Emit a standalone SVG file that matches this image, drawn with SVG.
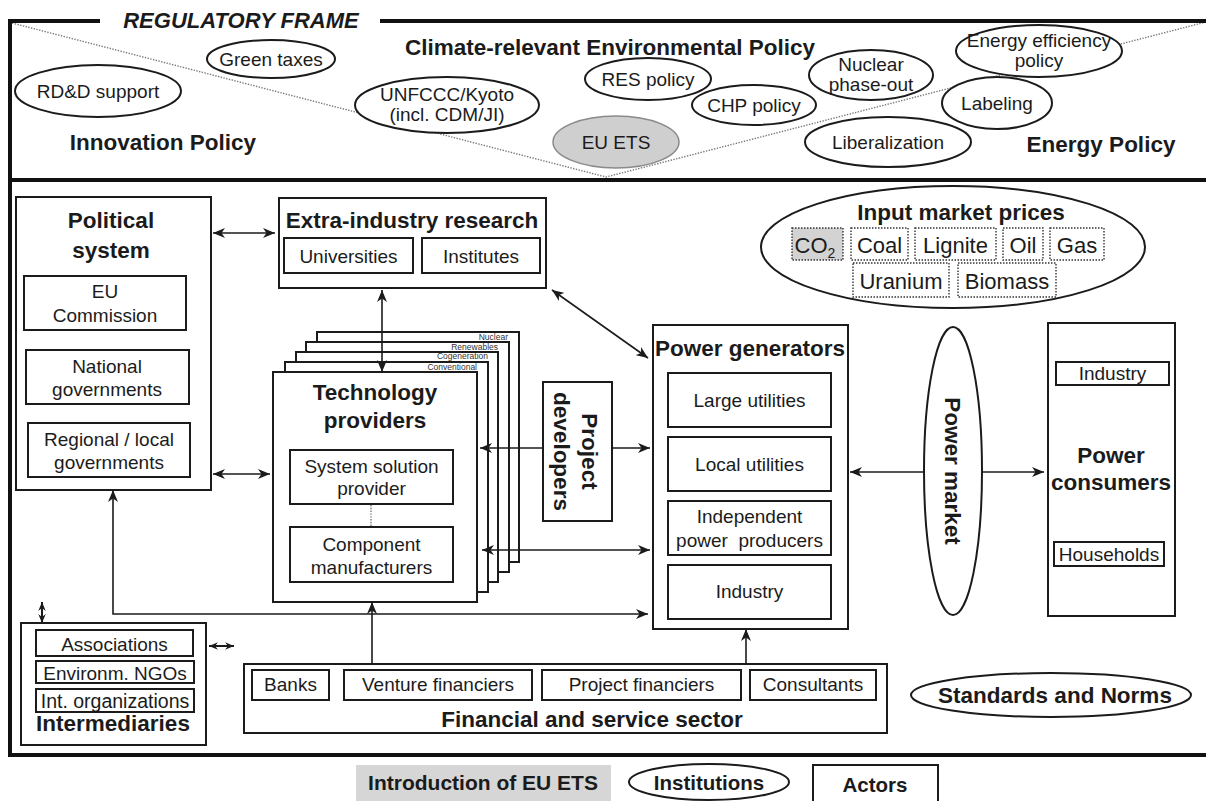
<svg xmlns="http://www.w3.org/2000/svg" width="1206" height="801" viewBox="0 0 1206 801">
<defs>
<style>
.t{font-family:"Liberation Sans",Arial,Helvetica,sans-serif;font-size:19px;fill:#1b1b1b;text-anchor:middle}
.b{font-weight:bold;font-size:22.5px}
.bx{fill:#fff;stroke:#1b1b1b;stroke-width:2}
.el{fill:#fff;stroke:#1b1b1b;stroke-width:2}
.fr{fill:none;stroke:#111;stroke-width:4}
.dt{fill:none;stroke:#7a7a7a;stroke-width:1.4;stroke-dasharray:1.4 1.4}
.db{fill:#fff;stroke:#333;stroke-width:1.4;stroke-dasharray:1.5 1.5}
.ln{fill:none;stroke:#1b1b1b;stroke-width:1.6}
.two{marker-start:url(#ah);marker-end:url(#ah)}
.one{marker-end:url(#ah)}
.sm{stroke-width:2;marker-start:url(#ahs);marker-end:url(#ahs)}
.lay{font-size:8.5px;text-anchor:end;fill:#333}
</style>
<marker id="ah" viewBox="0 0 12 10" refX="12" refY="5" markerWidth="12" markerHeight="10" markerUnits="userSpaceOnUse" orient="auto-start-reverse">
<path d="M0,0 L12,5 L0,10 L3.5,5 z" fill="#1b1b1b"/>
</marker>
<marker id="ahs" viewBox="0 0 12 10" refX="12" refY="5" markerWidth="9" markerHeight="9" markerUnits="userSpaceOnUse" orient="auto-start-reverse">
<path d="M0,0 L12,5 L0,10 L4,5 z" fill="#1b1b1b"/>
</marker>
</defs>
<rect width="1206" height="801" fill="#fff"/>

<!-- regulatory frame: borders, policy fields and the dotted V dividing them -->
<g id="regulatory-frame">
<path class="dt" d="M12,23 L606,177 L1206,22"/>
<path class="fr" d="M10,19 V757"/>
<path class="fr" d="M8,21 H100 M380,21 H1206"/>
<path class="fr" d="M8,180 H1206"/>
<path class="fr" d="M8,755 H1206"/>
<text class="t b" x="241" y="28" style="font-size:22px;font-style:italic">REGULATORY FRAME</text>
<text class="t b" x="610" y="55">Climate-relevant Environmental Policy</text>
<text class="t b" x="163" y="150">Innovation Policy</text>
<text class="t b" x="1101" y="152">Energy Policy</text>
</g>

<g id="rdd-support"><ellipse class="el" cx="98" cy="91" rx="83" ry="26"/><text class="t" x="98" y="98">RD&amp;D support</text></g>
<g id="green-taxes"><ellipse class="el" cx="271" cy="59" rx="64" ry="19"/><text class="t" x="271" y="66">Green taxes</text></g>
<g id="unfccc"><ellipse class="el" cx="447" cy="105" rx="92" ry="28"/><text class="t" x="447" y="101">UNFCCC/Kyoto</text><text class="t" x="447" y="121">(incl. CDM/JI)</text></g>
<g id="eu-ets"><ellipse cx="616" cy="142" rx="63" ry="26" fill="#cfcfcf" stroke="#8a8a8a" stroke-width="1.5"/><text class="t" x="616" y="149">EU ETS</text></g>
<g id="res-policy"><ellipse class="el" cx="648" cy="79" rx="63" ry="21"/><text class="t" x="648" y="86">RES policy</text></g>
<g id="chp-policy"><ellipse class="el" cx="754" cy="105" rx="62" ry="20"/><text class="t" x="754" y="112">CHP policy</text></g>
<g id="nuclear-phase-out"><ellipse class="el" cx="871" cy="75" rx="62" ry="25"/><text class="t" x="871" y="71">Nuclear</text><text class="t" x="871" y="91">phase-out</text></g>
<g id="energy-efficiency"><ellipse class="el" cx="1039" cy="51" rx="83" ry="26"/><text class="t" x="1039" y="47">Energy efficiency</text><text class="t" x="1039" y="67">policy</text></g>
<g id="labeling"><ellipse class="el" cx="997" cy="103" rx="55" ry="26"/><text class="t" x="997" y="110">Labeling</text></g>
<g id="liberalization"><ellipse class="el" cx="888" cy="142" rx="83" ry="25"/><text class="t" x="888" y="149">Liberalization</text></g>

<g id="political-system">
<rect class="bx" x="16" y="197" width="195" height="293"/>
<text class="t b" x="111" y="228">Political</text>
<text class="t b" x="111" y="258">system</text>
<rect class="bx" x="24" y="276" width="162" height="54"/>
<text class="t" x="105" y="298">EU</text><text class="t" x="105" y="322">Commission</text>
<rect class="bx" x="26" y="350" width="163" height="54"/>
<text class="t" x="107" y="373">National</text><text class="t" x="107" y="396">governments</text>
<rect class="bx" x="28" y="423" width="162" height="54"/>
<text class="t" x="109" y="446">Regional / local</text><text class="t" x="109" y="469">governments</text>
</g>

<g id="extra-industry-research">
<rect class="bx" x="279" y="198" width="267" height="90"/>
<text class="t b" x="412" y="228">Extra-industry research</text>
<rect class="bx" x="284" y="238" width="129" height="35"/>
<text class="t" x="348.5" y="263">Universities</text>
<rect class="bx" x="422" y="238" width="118" height="35"/>
<text class="t" x="481" y="263">Institutes</text>
</g>

<g id="technology-providers">
<rect class="bx" x="317" y="332" width="202" height="230"/>
<text class="t lay" x="508" y="340">Nuclear</text>
<rect class="bx" x="306" y="342" width="203" height="230"/>
<text class="t lay" x="498" y="350">Renewables</text>
<rect class="bx" x="296" y="352" width="202" height="230"/>
<text class="t lay" x="488" y="359">Cogeneration</text>
<rect class="bx" x="285" y="362" width="203" height="230"/>
<text class="t lay" x="477" y="370">Conventional</text>
<rect class="bx" x="273" y="372" width="204" height="230"/>
<text class="t b" x="375" y="400">Technology</text>
<text class="t b" x="375" y="428">providers</text>
<rect class="bx" x="290" y="450" width="163" height="54"/>
<text class="t" x="371.5" y="473">System solution</text><text class="t" x="371.5" y="495">provider</text>
<path class="dt" d="M371,505 V527"/>
<rect class="bx" x="290" y="527" width="163" height="55"/>
<text class="t" x="371.5" y="551">Component</text><text class="t" x="371.5" y="574">manufacturers</text>
</g>

<g id="project-developers">
<rect class="bx" x="543" y="382" width="69" height="139"/>
<g transform="translate(577.5,451.5) rotate(90)">
<text class="t b" x="0" y="-4.5">Project</text>
<text class="t b" x="0" y="23.5">developers</text>
</g>
</g>

<g id="power-generators">
<rect class="bx" x="653" y="325" width="195" height="304"/>
<text class="t b" x="750" y="356">Power generators</text>
<rect class="bx" x="668" y="373" width="163" height="54"/>
<text class="t" x="749.5" y="407">Large utilities</text>
<rect class="bx" x="668" y="437" width="163" height="54"/>
<text class="t" x="749.5" y="471">Local utilities</text>
<rect class="bx" x="668" y="501" width="163" height="54"/>
<text class="t" x="749.5" y="523">Independent</text><text class="t" x="749.5" y="547">power&#160; producers</text>
<rect class="bx" x="668" y="565" width="163" height="54"/>
<text class="t" x="749.5" y="598">Industry</text>
</g>

<g id="power-market">
<ellipse class="el" cx="953" cy="471" rx="29" ry="144"/>
<g transform="translate(953,471) rotate(90)"><text class="t b" x="0" y="8">Power market</text></g>
</g>

<g id="power-consumers">
<rect class="bx" x="1048" y="323" width="127" height="293"/>
<rect class="bx" x="1056" y="362" width="113" height="23"/>
<text class="t" x="1112.5" y="380">Industry</text>
<text class="t b" x="1111" y="463">Power</text>
<text class="t b" x="1111" y="490">consumers</text>
<rect class="bx" x="1054" y="542" width="110" height="24"/>
<text class="t" x="1109" y="561">Households</text>
</g>

<g id="input-market-prices">
<ellipse class="el" cx="953" cy="247" rx="192" ry="61"/>
<text class="t b" x="961" y="220">Input market prices</text>
<rect class="db" x="792" y="228" width="51" height="32" style="fill:#d3d3d3"/>
<text class="t" x="815" y="253" style="font-size:22px">CO<tspan style="font-size:14px" dy="5">2</tspan></text>
<rect class="db" x="851" y="228" width="57" height="32"/>
<text class="t" x="879.5" y="253" style="font-size:22px">Coal</text>
<rect class="db" x="915" y="228" width="81" height="32"/>
<text class="t" x="955.5" y="253" style="font-size:22px">Lignite</text>
<rect class="db" x="1003" y="228" width="40" height="32"/>
<text class="t" x="1023" y="253" style="font-size:22px">Oil</text>
<rect class="db" x="1050" y="228" width="54" height="32"/>
<text class="t" x="1077" y="253" style="font-size:22px">Gas</text>
<rect class="db" x="853" y="263" width="96" height="34"/>
<text class="t" x="901" y="289" style="font-size:22px">Uranium</text>
<rect class="db" x="958" y="263" width="98" height="34"/>
<text class="t" x="1007" y="289" style="font-size:22px">Biomass</text>
</g>

<g id="intermediaries">
<rect class="bx" x="21" y="623" width="185" height="122"/>
<rect class="bx" x="36" y="630" width="157" height="26"/>
<text class="t" x="114.5" y="651">Associations</text>
<rect class="bx" x="36" y="661" width="158" height="22"/>
<text class="t" x="115" y="680">Environm. NGOs</text>
<rect class="bx" x="36" y="689" width="158" height="23"/>
<text class="t" x="115" y="708" style="font-size:19.5px">Int. organizations</text>
<text class="t b" x="113" y="731">Intermediaries</text>
</g>

<g id="financial-service-sector">
<rect class="bx" x="244" y="664" width="643" height="69"/>
<rect class="bx" x="252" y="670" width="77" height="30"/>
<text class="t" x="290.5" y="691">Banks</text>
<rect class="bx" x="344" y="670" width="188" height="30"/>
<text class="t" x="438" y="691">Venture financiers</text>
<rect class="bx" x="542" y="670" width="199" height="30"/>
<text class="t" x="641.5" y="691">Project financiers</text>
<rect class="bx" x="750" y="670" width="126" height="30"/>
<text class="t" x="813" y="691">Consultants</text>
<text class="t b" x="592" y="727">Financial and service sector</text>
</g>

<g id="standards-norms">
<ellipse class="el" cx="1051" cy="695" rx="140" ry="22"/>
<text class="t b" x="1055" y="703">Standards and Norms</text>
</g>

<!-- legend -->
<g id="legend">
<rect x="356" y="765" width="255" height="36" fill="#d6d6d6"/>
<text class="t b" x="483" y="790" style="font-size:21px">Introduction of EU ETS</text>
<ellipse class="el" cx="709" cy="782" rx="80" ry="18"/>
<text class="t b" x="709" y="790" style="font-size:20.5px">Institutions</text>
<rect class="bx" x="813" y="765" width="125" height="45"/>
<text class="t b" x="875" y="792" style="font-size:20.5px">Actors</text>
</g>

<g id="connectors">
<path class="ln two" d="M213,233 H275"/>
<path class="ln two" d="M213,474 H270"/>
<path class="ln two" d="M382,290 V372"/>
<path class="ln two" d="M552,290 L648,358"/>
<path class="ln two" d="M113,490 V614 H648"/>
<path class="ln one" d="M543,448 H480"/>
<path class="ln one" d="M612,448 H650"/>
<path class="ln two" d="M482,550 H650"/>
<path class="ln one" d="M372,664 V602"/>
<path class="ln one" d="M746,664 V629"/>
<path class="ln one" d="M924,472 H850"/>
<path class="ln one" d="M982,472 H1044"/>
<path class="ln sm" d="M42,602 V623"/>
<path class="ln sm" d="M209,646 H234"/>
</g>
</svg>
